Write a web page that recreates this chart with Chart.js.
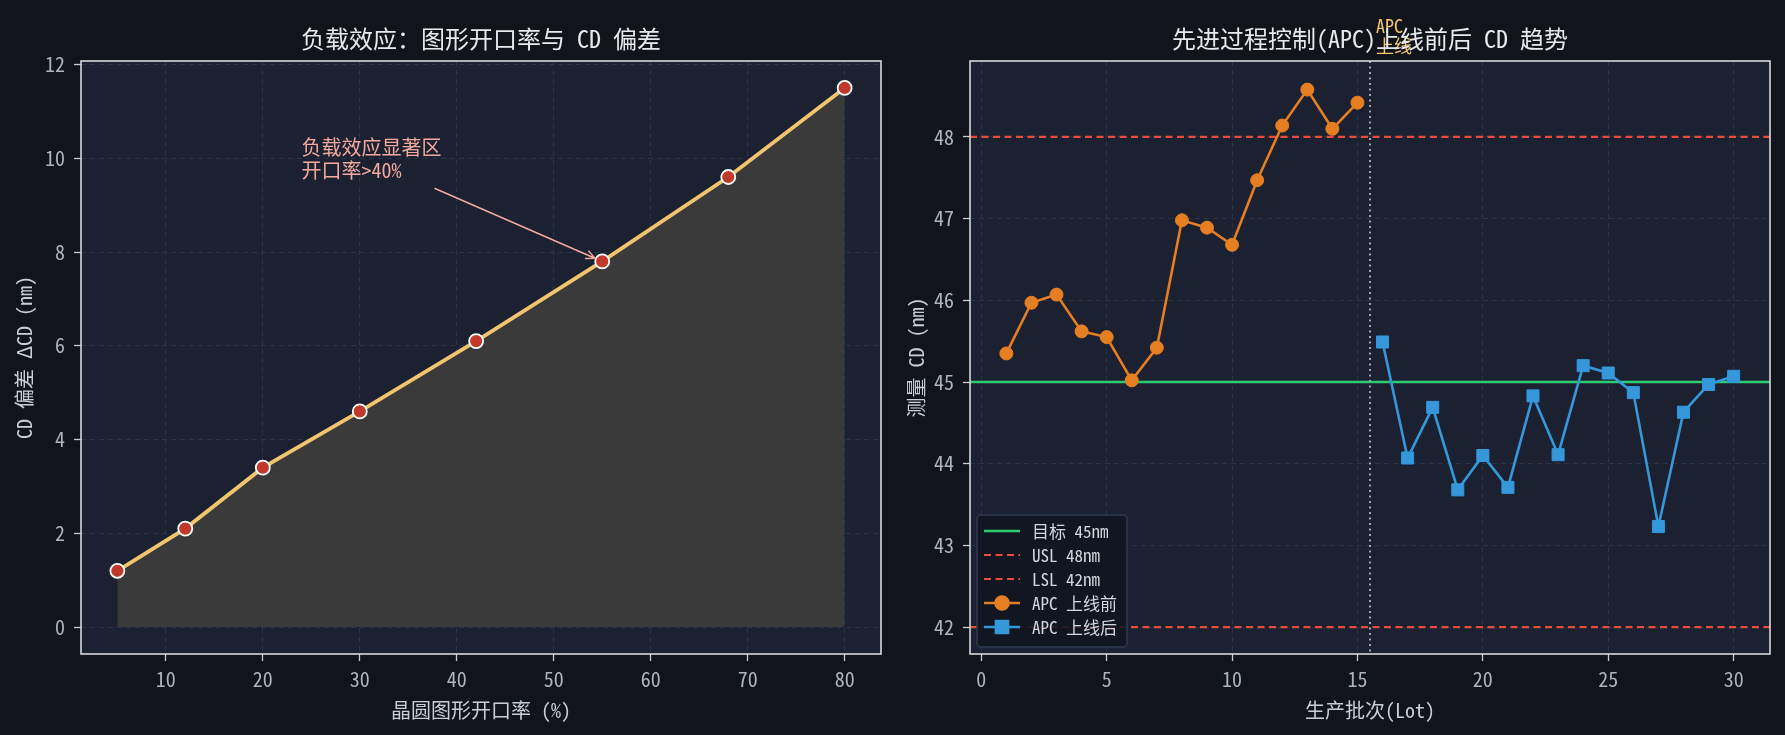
<!DOCTYPE html>
<html>
<head>
<meta charset="utf-8">
<script src="https://cdn.jsdelivr.net/npm/chart.js@4.4.1/dist/chart.umd.min.js"></script>
<style>
  html, body { margin: 0; background: #11141b; }
  #wrap { position: relative; width: 1785px; height: 735px; }
  #wrap canvas { position: absolute; top: 0; }
</style>
</head>
<body>
<div id="wrap">
  <canvas id="loading" width="892" height="735" style="left:0"></canvas>
  <canvas id="apc" width="893" height="735" style="left:892px"></canvas>
</div>
<script>
// --- data: loading effect ---
const openRatio = [5, 12, 20, 30, 42, 55, 68, 80];
const cdBias = [1.2, 2.1, 3.4, 4.6, 6.1, 7.8, 9.6, 11.5];
const openRatioTicks = [10, 20, 30, 40, 50, 60, 70, 80];
const cdBiasTicks = [0, 2, 4, 6, 8, 10, 12];
const openRatioRange = [1.25, 83.75];
const cdBiasRange = [-0.575, 12.075];

// --- data: APC trend ---
const lotsBefore = [1, 2, 3, 4, 5, 6, 7, 8, 9, 10, 11, 12, 13, 14, 15];
const cdBefore = [45.35, 45.97, 46.07, 45.62, 45.55, 45.02, 45.42, 46.98, 46.89, 46.68, 47.47, 48.14, 48.58, 48.10, 48.42];
const lotsAfter = [16, 17, 18, 19, 20, 21, 22, 23, 24, 25, 26, 27, 28, 29, 30];
const cdAfter = [45.49, 44.07, 44.69, 43.68, 44.10, 43.71, 44.83, 44.11, 45.20, 45.11, 44.87, 43.23, 44.63, 44.97, 45.07];
const targetCD = 45;
const uslCD = 48;
const lslCD = 42;
const apcStartLot = 15.5;
const lotTicks = [0, 5, 10, 15, 20, 25, 30];
const cdTicks = [42, 43, 44, 45, 46, 47, 48];
const lotRange = [-0.45, 31.45];
const cdRange = [41.67, 48.93];

const FONT = '"Noto Sans Mono CJK SC", "Noto Sans CJK SC", "Noto Sans", sans-serif';
const PLOT_BG = '#1b2130';
const GRID = '#2a3447';
const TICK = '#c9ccd2';
const TICK_TXT = '#aeb3bc';
const LABEL_TXT = '#c9cdd4';

function toXY(xs, ys) {
  return xs.map((x, i) => ({ x: x, y: ys[i] }));
}

function axis(range, ticks, title, size, horizontal) {
  return {
    type: 'linear',
    min: range[0],
    max: range[1],
    afterBuildTicks: s => { s.ticks = ticks.map(v => ({ value: v })); },
    afterFit: s => { if (horizontal) s.height = size; else s.width = size; },
    grid: { color: GRID, lineWidth: 1, borderDash: [5, 4], tickColor: TICK, tickLength: 7, tickWidth: 1.3 },
    border: { display: false, dash: [5, 4] },
    ticks: { color: TICK_TXT, font: { family: FONT, size: 20 }, padding: horizontal ? 6 : 9, maxRotation: 0 },
    title: {
      display: true, text: title, color: LABEL_TXT,
      font: { family: FONT, size: 20 },
      padding: horizontal ? { top: 0, bottom: 13 } : { top: 12, bottom: 0 }
    }
  };
}

// plot background, frame and title
const framePlugin = {
  id: 'frame',
  beforeDraw(chart, args, opts) {
    const a = chart.chartArea, ctx = chart.ctx;
    ctx.save();
    ctx.fillStyle = PLOT_BG;
    ctx.fillRect(a.left, a.top, a.right - a.left, a.bottom - a.top);
    ctx.restore();
  },
  afterDraw(chart, args, opts) {
    const a = chart.chartArea, ctx = chart.ctx;
    ctx.save();
    ctx.strokeStyle = '#d8d9dc';
    ctx.lineWidth = 1.6;
    ctx.strokeRect(a.left, a.top, a.right - a.left, a.bottom - a.top);
    ctx.fillStyle = '#e8e9ec';
    ctx.font = '24px ' + FONT;
    ctx.textAlign = 'center';
    ctx.textBaseline = 'middle';
    ctx.fillText(opts.text, (a.left + a.right) / 2, 39);
    ctx.restore();
  }
};

// arrow annotation on the loading chart
const notePlugin = {
  id: 'note',
  afterDatasetsDraw(chart, args, opts) {
    const x = chart.scales.x, y = chart.scales.y, ctx = chart.ctx;
    ctx.save();
    ctx.fillStyle = opts.color;
    ctx.strokeStyle = opts.color;
    ctx.font = '20px ' + FONT;
    ctx.textBaseline = 'top';
    const tx = x.getPixelForValue(opts.textAt.x), ty = y.getPixelForValue(opts.textAt.y);
    opts.lines.forEach((t, i) => ctx.fillText(t, tx, ty + i * 23));
    const x0 = x.getPixelForValue(opts.from.x), y0 = y.getPixelForValue(opts.from.y);
    let x1 = x.getPixelForValue(opts.to.x), y1 = y.getPixelForValue(opts.to.y);
    const ang = Math.atan2(y1 - y0, x1 - x0);
    x1 -= Math.cos(ang) * 8; y1 -= Math.sin(ang) * 8;
    ctx.lineWidth = 1.5;
    ctx.beginPath();
    ctx.moveTo(x0, y0); ctx.lineTo(x1, y1);
    ctx.moveTo(x1 - Math.cos(ang - 0.45) * 10, y1 - Math.sin(ang - 0.45) * 10);
    ctx.lineTo(x1, y1);
    ctx.lineTo(x1 - Math.cos(ang + 0.45) * 10, y1 - Math.sin(ang + 0.45) * 10);
    ctx.stroke();
    ctx.restore();
  }
};

// APC start marker and legend on the trend chart
const apcPlugin = {
  id: 'apcMark',
  afterDatasetsDraw(chart, args, opts) {
    const a = chart.chartArea, ctx = chart.ctx;
    const px = chart.scales.x.getPixelForValue(opts.lot);
    ctx.save();
    ctx.strokeStyle = '#9ea6b3';
    ctx.lineWidth = 2;
    ctx.setLineDash([2, 3.5]);
    ctx.beginPath();
    ctx.moveTo(px, a.top); ctx.lineTo(px, a.bottom);
    ctx.stroke();
    ctx.setLineDash([]);
    ctx.fillStyle = '#f2c66a';
    ctx.font = '18px ' + FONT;
    ctx.textBaseline = 'middle';
    ctx.fillText('APC', px + 6, a.top - 35);
    ctx.fillText('上线', px + 6, a.top - 15);
    ctx.restore();
  },
  afterDraw(chart) {
    const a = chart.chartArea, ctx = chart.ctx;
    const sets = chart.data.datasets.slice().sort((p, q) => p.legendRank - q.legendRank);
    ctx.save();
    ctx.font = '17px ' + FONT;
    const tw = Math.max(...sets.map(d => ctx.measureText(d.label).width));
    const rowH = 24, w = 7 + 36 + 12 + tw + 10, h = sets.length * rowH + 12;
    const bx = a.left + 7, by = a.bottom - 7 - h;
    ctx.fillStyle = 'rgba(17,21,31,0.88)';
    ctx.strokeStyle = '#2f3a50';
    ctx.lineWidth = 1.5;
    ctx.beginPath();
    ctx.roundRect(bx, by, w, h, 4);
    ctx.fill(); ctx.stroke();
    sets.forEach((d, i) => {
      const cy = by + 16 + i * rowH, lx = bx + 7;
      ctx.strokeStyle = d.borderColor;
      ctx.lineWidth = d.borderWidth;
      ctx.setLineDash(d.borderDash || []);
      ctx.beginPath();
      ctx.moveTo(lx, cy); ctx.lineTo(lx + 36, cy);
      ctx.stroke();
      ctx.setLineDash([]);
      if (d.pointRadius > 0) {
        Chart.helpers.drawPoint(ctx, {
          pointStyle: d.pointStyle || 'circle', radius: d.pointRadius, rotation: 0, borderWidth: 1
        }, lx + 18, cy);
        ctx.fillStyle = d.pointBackgroundColor;
        ctx.fill();
      }
      ctx.fillStyle = '#d3d6dc';
      ctx.textBaseline = 'middle';
      ctx.fillText(d.label, lx + 48, cy + 1);
    });
    ctx.restore();
  }
};

new Chart(document.getElementById('loading'), {
  type: 'line',
  data: {
    datasets: [{
      label: 'CD 偏差',
      data: toXY(openRatio, cdBias),
      borderColor: '#f2c46d',
      borderWidth: 3.8,
      backgroundColor: 'rgba(62,61,60,0.9)',
      fill: 'origin',
      pointRadius: 7,
      pointBackgroundColor: '#c0392b',
      pointBorderColor: '#ffffff',
      pointBorderWidth: 1.8
    }]
  },
  options: {
    responsive: false,
    animation: false,
    events: [],
    layout: { padding: { top: 61, right: 11, left: 0, bottom: 0 } },
    scales: {
      x: axis(openRatioRange, openRatioTicks, '晶圆图形开口率 (%)', 81, true),
      y: axis(cdBiasRange, cdBiasTicks, 'CD 偏差 ΔCD (nm)', 81, false)
    },
    plugins: {
      legend: { display: false },
      tooltip: { enabled: false },
      frame: { text: '负载效应：图形开口率与 CD 偏差' },
      note: {
        lines: ['负载效应显著区', '开口率>40%'],
        color: '#f2a99e',
        textAt: { x: 24, y: 10.45 },
        from: { x: 37.7, y: 9.36 },
        to: { x: 55, y: 7.8 }
      }
    }
  },
  plugins: [framePlugin, notePlugin]
});

new Chart(document.getElementById('apc'), {
  type: 'line',
  data: {
    datasets: [
      {
        label: 'APC 上线前', legendRank: 3, order: 1,
        data: toXY(lotsBefore, cdBefore),
        borderColor: '#e67e22', borderWidth: 2.6,
        pointRadius: 6.5, pointBackgroundColor: '#e67e22', pointBorderColor: '#e67e22', pointBorderWidth: 1
      },
      {
        label: 'APC 上线后', legendRank: 4, order: 0,
        data: toXY(lotsAfter, cdAfter),
        borderColor: '#3498db', borderWidth: 2.6,
        pointStyle: 'rect', pointRadius: 8.5, pointBackgroundColor: '#3498db', pointBorderColor: '#3498db', pointBorderWidth: 1
      },
      {
        label: '目标 45nm', legendRank: 0, order: 4,
        data: [{ x: lotRange[0], y: targetCD }, { x: lotRange[1], y: targetCD }],
        borderColor: '#2ecc71', borderWidth: 2.6, pointRadius: 0
      },
      {
        label: 'USL 48nm', legendRank: 1, order: 3,
        data: [{ x: lotRange[0], y: uslCD }, { x: lotRange[1], y: uslCD }],
        borderColor: '#e74c3c', borderWidth: 2.2, borderDash: [7, 4.5], pointRadius: 0
      },
      {
        label: 'LSL 42nm', legendRank: 2, order: 3,
        data: [{ x: lotRange[0], y: lslCD }, { x: lotRange[1], y: lslCD }],
        borderColor: '#e74c3c', borderWidth: 2.2, borderDash: [7, 4.5], pointRadius: 0
      }
    ]
  },
  options: {
    responsive: false,
    animation: false,
    events: [],
    layout: { padding: { top: 61, right: 15, left: 0, bottom: 0 } },
    scales: {
      x: axis(lotRange, lotTicks, '生产批次(Lot)', 81, true),
      y: axis(cdRange, cdTicks, '测量 CD (nm)', 78, false)
    },
    plugins: {
      legend: { display: false },
      tooltip: { enabled: false },
      frame: { text: '先进过程控制(APC)上线前后 CD 趋势' },
      apcMark: { lot: apcStartLot }
    }
  },
  plugins: [framePlugin, apcPlugin]
});
</script>
</body>
</html>
